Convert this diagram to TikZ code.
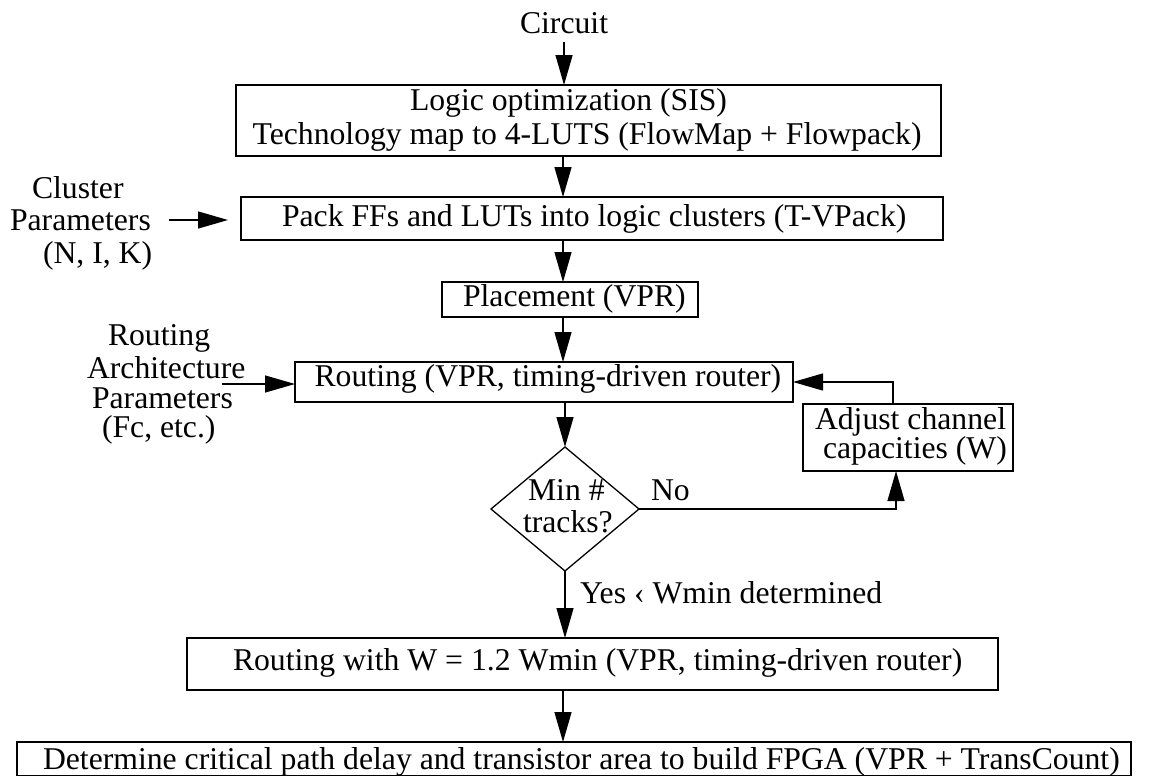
\documentclass[tikz,border=0pt]{standalone}
\usepackage{fontspec}
\setmainfont{Liberation Serif}
\usetikzlibrary{arrows.meta,shapes.geometric}
\tikzset{
  box/.style={draw, rectangle, line width=1.3pt, inner sep=0pt, outer sep=0pt},
  decision/.style={draw, diamond, line width=1.3pt, inner sep=0pt, outer sep=0pt},
  txt/.style={anchor=base west, inner sep=0pt, outer sep=0pt, font=\fontsize{31.7}{34}\selectfont},
  flow/.style={line width=1.3pt, -{Triangle[length=30pt,width=17pt]}},
}
\begin{document}
\begin{tikzpicture}[x=1pt,y=-1pt]
\useasboundingbox (0,0) rectangle (1151,777);

% process boxes
\node[box, minimum width=705pt, minimum height=71pt] (b1) at (588.5,120.5) {};
\node[box, minimum width=702pt, minimum height=43pt] (b2) at (592,218.5) {};
\node[box, minimum width=256pt, minimum height=35pt] (b3) at (570,299.5) {};
\node[box, minimum width=498pt, minimum height=40pt] (b4) at (544,382) {};
\node[box, minimum width=210pt, minimum height=67pt] (adj) at (908,437.5) {};
\node[decision, minimum width=148pt, minimum height=124pt] (d) at (565,509) {};
\node[box, minimum width=811pt, minimum height=52pt] (b5) at (592.5,664) {};
\node[box, minimum width=1114pt, minimum height=33.5pt] (b6) at (574,758.75) {};

% texts
\node[txt] (tcirc) at (520,33) {Circuit};
\node[txt] (t1a) at (410,110) {Logic optimization (SIS)};
\node[txt] (t1b) at (252.6,144) {Technology map to 4-LUTS (FlowMap + Flowpack)};
\node[txt] (t2) at (282,226.7) {Pack FFs and LUTs into logic clusters (T-VPack)};
\node[txt] (t3) at (463,306.7) {Placement (VPR)};
\node[txt] (t4) at (314.6,386.7) {Routing (VPR, timing-driven router)};
\node[txt] (tadj1) at (815,429.3) {Adjust channel};
\node[txt] (tadj2) at (823,458.3) {capacities (W)};
\node[txt] (td1) at (528,500) {Min \#};
\node[txt] (td2) at (523,532.7) {tracks?};
\node[txt] (tno) at (651,500) {No};
\node[txt] (tyes) at (580,603.3) {Yes ‹ Wmin determined};
\node[txt] (t5) at (233,670.7) {Routing with W = 1.2 Wmin (VPR, timing-driven router)};
\node[txt] (t6) at (43,769.3) {Determine critical path delay and transistor area to build FPGA (VPR + TransCount)};
\node[txt] (cl1) at (32,198.3) {Cluster};
\node[txt] (cl2) at (10,230.7) {Parameters};
\node[txt] (cl3) at (43,263.3) {(N, I, K)};
\node[txt] (ra1) at (108,345) {Routing};
\node[txt] (ra2) at (87,378.3) {Architecture};
\node[txt] (ra3) at (92,408.3) {Parameters};
\node[txt] (ra4) at (102,437.7) {(Fc, etc.)};

% helper coordinates
\coordinate (ax) at (563,0);
\coordinate (fbup) at (896,0);
\coordinate (fbback) at (893,0);
\coordinate (clin) at (169,220);
\coordinate (rain) at (222,384);

% main flow
\draw[flow, shorten <=9pt] (tcirc.south) -- (tcirc.south |- b1.north);
\draw[flow] (b1.south -| ax) -- (b2.north -| ax);
\draw[flow] (b2.south -| ax) -- (b3.north -| ax);
\draw[flow] (b3.south -| ax) -- (b4.north -| ax);
\draw[flow] (b4.south -| d.north) -- (d.north);
\draw[flow] (d.south) -- (d.south |- b5.north);
\draw[flow] (b5.south -| ax) -- (b6.north -| ax);

% channel width loop
\draw[flow] (d.east) -| (adj.south -| fbup);
\draw[flow] (adj.north -| fbback) |- (b4.east);

% parameter inputs
\draw[flow, shorten >=13pt] (clin) -- (clin -| b2.west);
\draw[flow] (rain) -- (rain -| b4.west);
\end{tikzpicture}
\end{document}
